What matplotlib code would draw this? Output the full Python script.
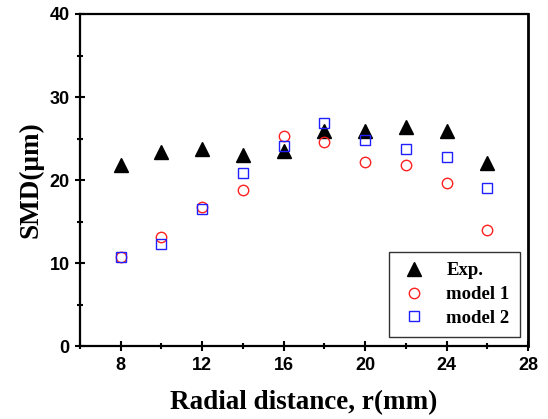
import matplotlib
matplotlib.use("Agg")
import matplotlib.pyplot as plt
from matplotlib.ticker import MultipleLocator

r = [8, 10, 12, 14, 16, 18, 20, 22, 24, 26]
exp = [21.8, 23.4, 23.7, 23.0, 23.5, 25.9, 25.9, 26.4, 25.9, 22.0]
model1 = [10.7, 13.1, 16.8, 18.8, 25.3, 24.6, 22.2, 21.8, 19.7, 14.0]
model2 = [10.7, 12.3, 16.5, 20.9, 24.1, 26.9, 24.8, 23.7, 22.8, 19.0]

fig = plt.figure(figsize=(5.48, 4.19), dpi=100)
ax = fig.add_axes([0.146, 0.174, 0.8175, 0.7926])

ax.plot(r, exp, linestyle='none', marker='^', markersize=9.5, color='black', label='Exp.')
ax.plot(r, model1, linestyle='none', marker='o', markersize=7.5, markerfacecolor='none',
        markeredgecolor='#ff2020', markeredgewidth=1.0, label='model 1')
ax.plot(r, model2, linestyle='none', marker='s', markersize=6.8, markerfacecolor='none',
        markeredgecolor='#2020ff', markeredgewidth=1.0, label='model 2')

ax.set_xlim(6, 28)
ax.set_ylim(0, 40)
ax.xaxis.set_minor_locator(MultipleLocator(2))
ax.yaxis.set_major_locator(MultipleLocator(10))
ax.yaxis.set_minor_locator(MultipleLocator(5))
ax.set_xticks([8, 12, 16, 20, 24, 28])

for s in ax.spines.values():
    s.set_linewidth(1.6)
ax.spines['right'].set_linewidth(2.0)
ax.tick_params(which='major', direction='inout', length=7, width=1.5, top=False, right=False, pad=4)
ax.tick_params(which='minor', direction='inout', length=5, width=1.5, top=False, right=False)

for lab in ax.get_xticklabels() + ax.get_yticklabels():
    lab.set_fontfamily('Liberation Sans')
    lab.set_fontweight('bold')
    lab.set_fontsize(13)

ax.set_xlabel('Radial distance, r(mm)', fontfamily='Liberation Serif', fontweight='bold',
              fontsize=19.5, labelpad=12)
ax.set_ylabel('SMD(\u03bcm)', fontfamily='Liberation Serif', fontweight='bold',
              fontsize=19.5, labelpad=4)

leg = ax.legend(loc='lower right', bbox_to_anchor=(0.982, 0.027), borderaxespad=0,
                frameon=True, fancybox=False, edgecolor='black',
                prop={'family': 'Liberation Serif', 'weight': 'bold', 'size': 13.5},
                handletextpad=0.9, borderpad=0.55, labelspacing=0.35, handlelength=1.6)
leg.get_frame().set_linewidth(1.0)

fig.savefig('out.png', dpi=100)
